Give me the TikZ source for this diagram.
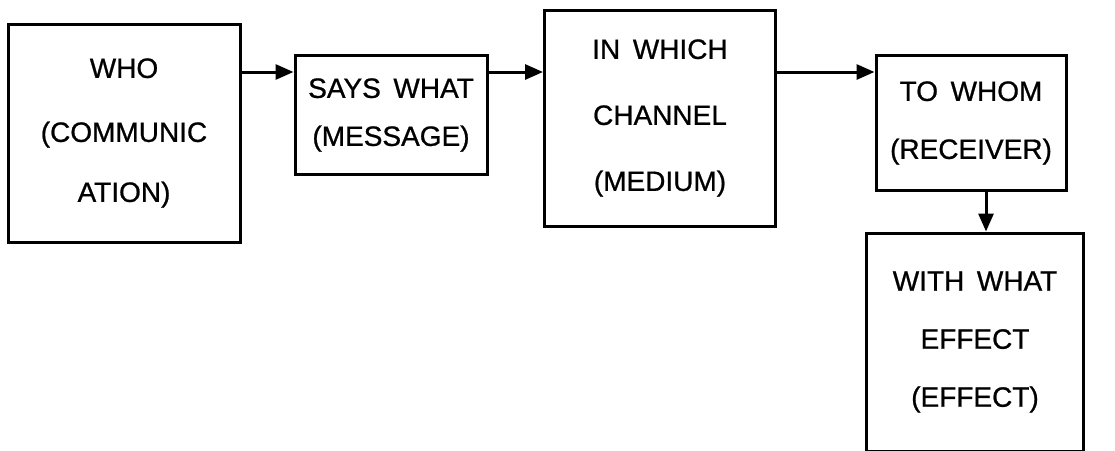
\documentclass[tikz,border=0pt]{standalone}
\usepackage{fontspec}
\setmainfont{Liberation Sans}
\newfontfamily\stagefont[FakeBold=0.8]{Liberation Sans}
\usetikzlibrary{arrows.meta,positioning}
\tikzset{
  stage/.style={rectangle, draw, line width=3pt, align=center,
                font=\stagefont\fontsize{28}{58}\selectfont, inner sep=0pt},
  arrow/.style={-{Triangle[length=18pt, width=15pt]}, line width=3pt}
}
\newcommand{\gap}{\hspace{0.45em}}

\begin{document}
\begin{tikzpicture}[x=1pt, y=-1pt]
  \useasboundingbox (0,0) rectangle (1115,450);
  \node[stage, minimum width=232pt, minimum height=218pt] (who) at (124,133)
    {WHO\\[6pt](COMMUNIC\\[2pt]ATION)};
  \node[stage, minimum width=192pt, minimum height=119pt] (says) at (391,115)
    {SAYS\gap WHAT\\[-10pt](MESSAGE)};
  \node[stage, minimum width=231pt, minimum height=216pt] (chan) at (660,118)
    {IN\gap WHICH\\[8pt]CHANNEL\\[8pt](MEDIUM)};
  \node[stage, minimum width=190pt, minimum height=135pt] (whom) at (971,123)
    {TO\gap WHOM\\(RECEIVER)};
  \node[stage, minimum width=217pt, minimum height=218pt] (eff) at (975,342)
    {WITH\gap WHAT\\EFFECT\\(EFFECT)};
  \draw[arrow] (who.east |- 0,72) -- (says.west |- 0,72);
  \draw[arrow] (says.east |- 0,72) -- (chan.west |- 0,72);
  \draw[arrow] (chan.east |- 0,72) -- (whom.west |- 0,72);
  \draw[arrow] (whom.south -| 986,0) -- (eff.north -| 986,0);
\end{tikzpicture}
\end{document}
